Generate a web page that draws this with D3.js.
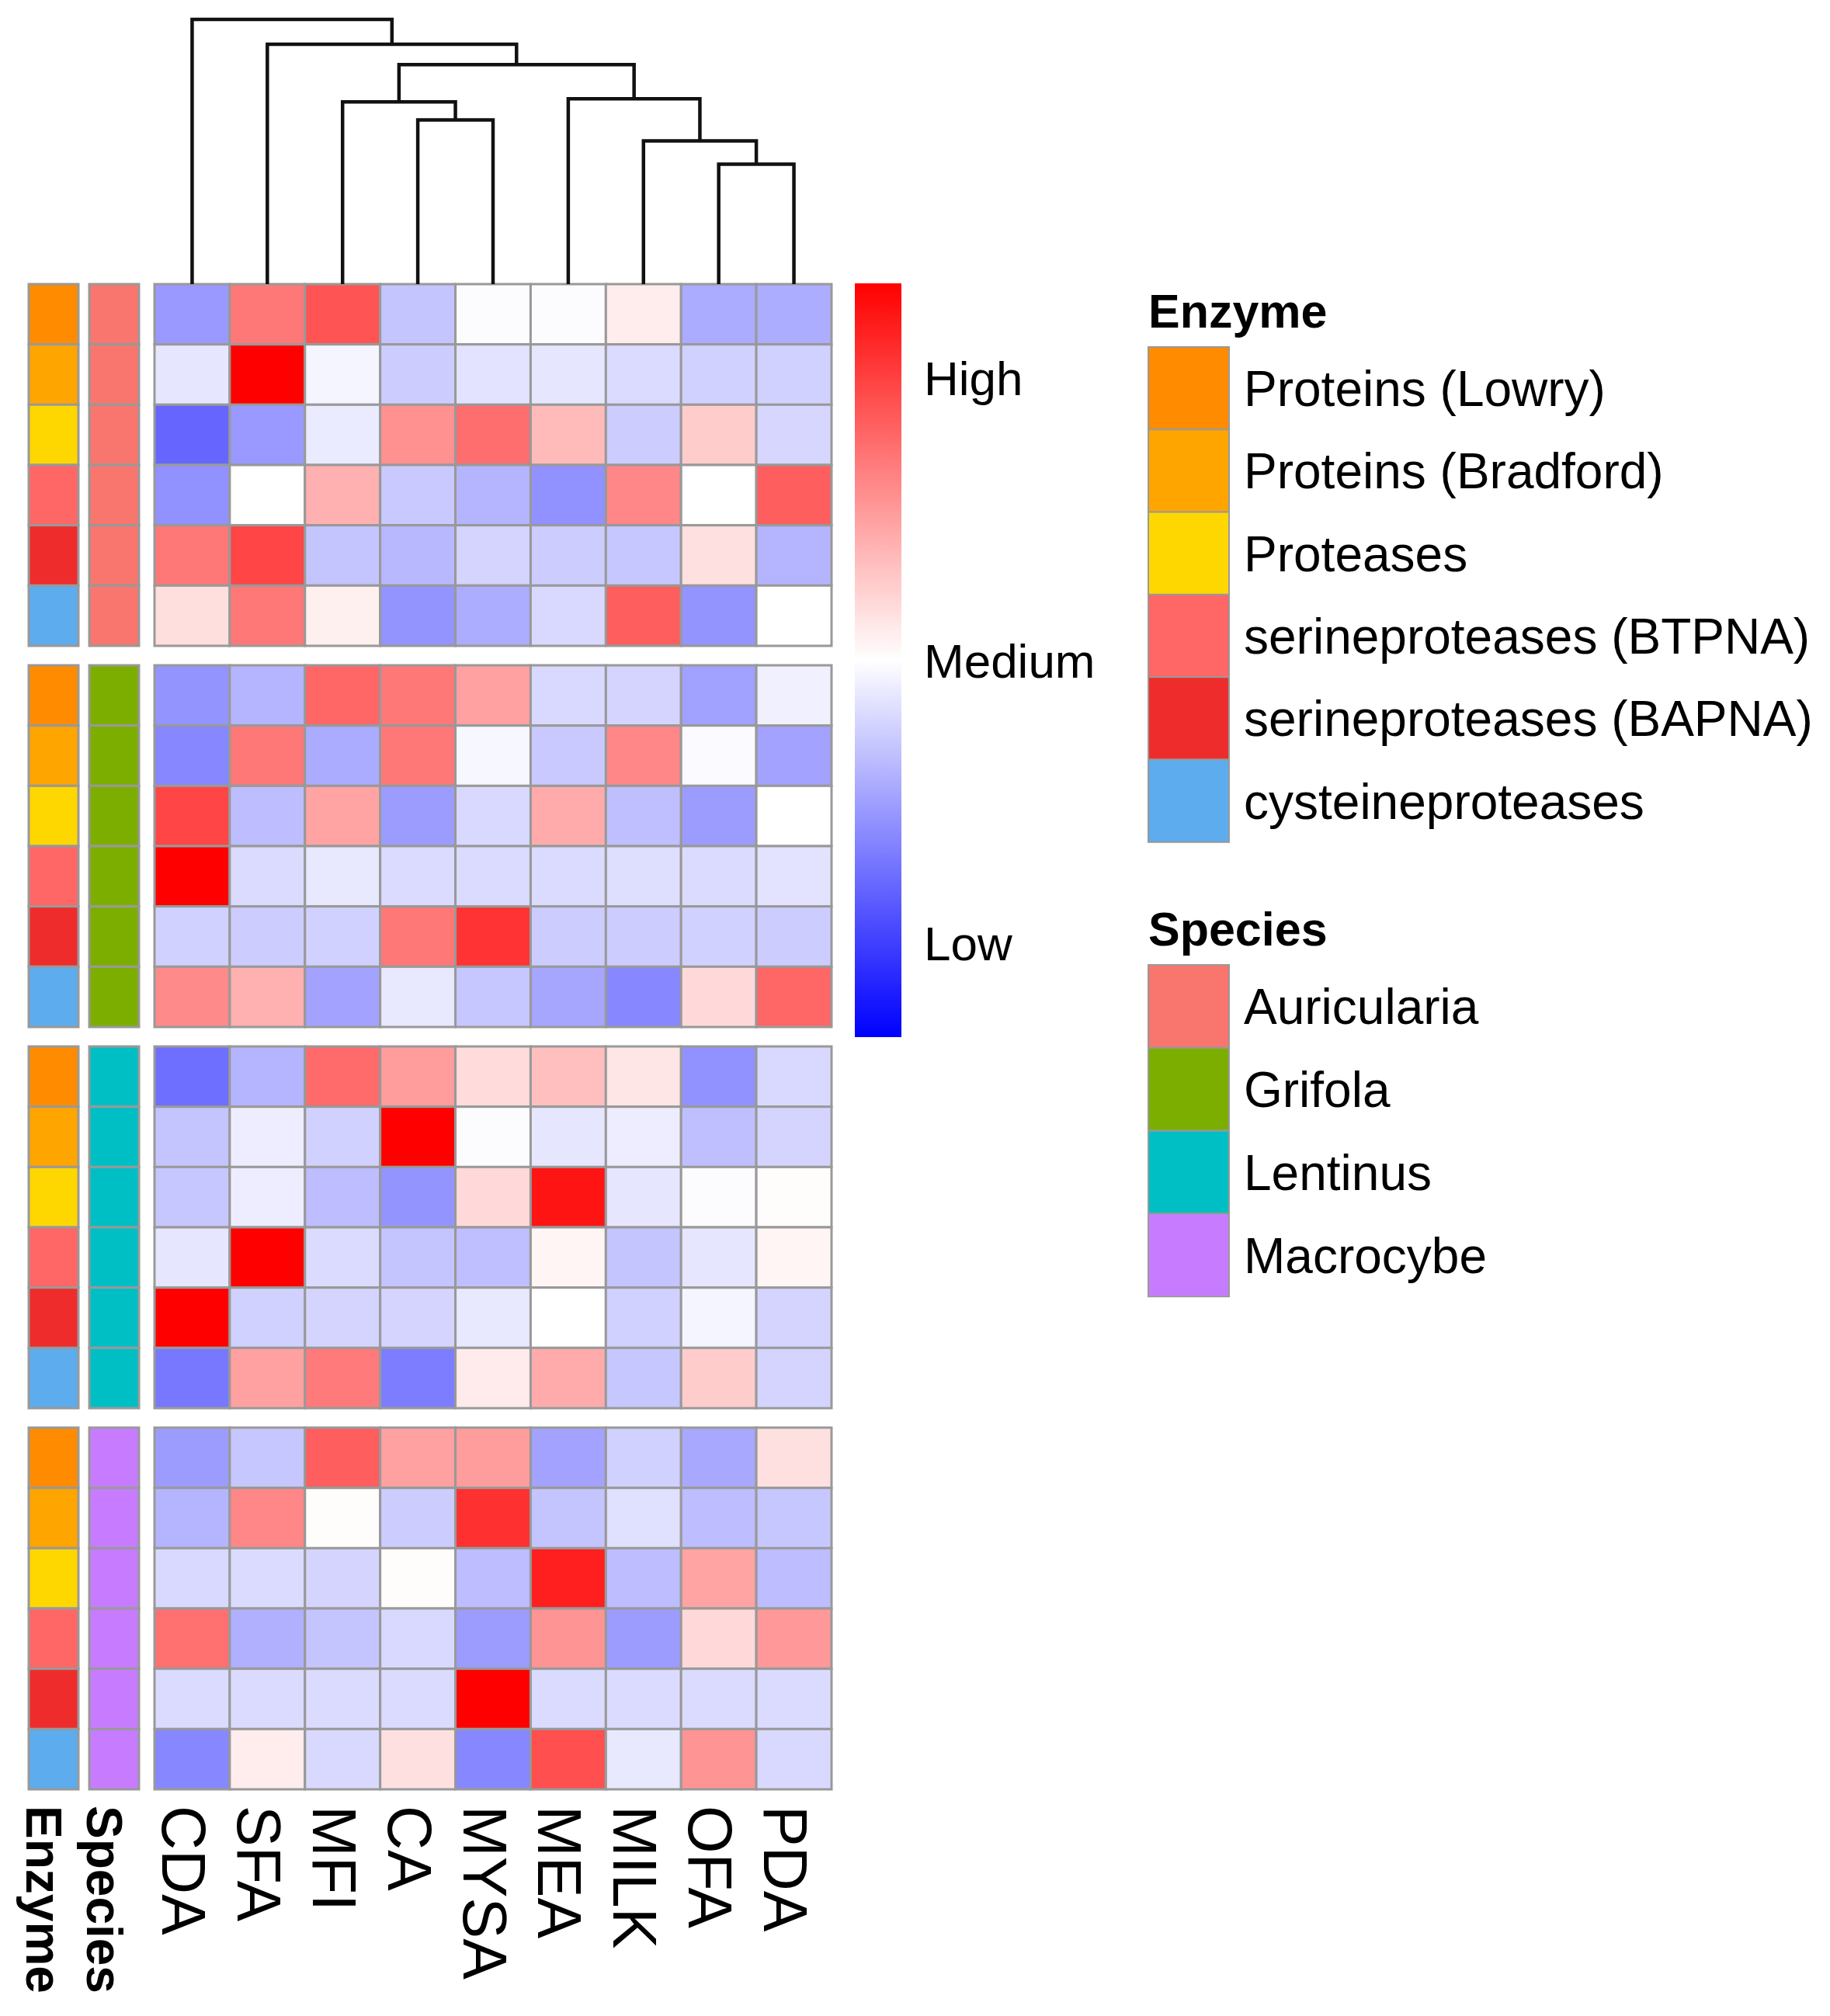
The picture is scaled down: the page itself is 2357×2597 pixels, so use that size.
<!DOCTYPE html>
<html>
<head>
<meta charset="utf-8">
<script src="https://cdn.jsdelivr.net/npm/d3@7"></script>
<style>
  body { margin: 0; background: #fff; }
  text { font-family: "Liberation Sans", Arial, sans-serif; fill: #000; }
</style>
</head>
<body>
<div id="chart"></div>
<script>
// columns (culture media), in dendrogram order
const columns = ["CDA", "SFA", "MFI", "CA", "MYSA", "MEA", "MILK", "OFA", "PDA"];

const enzymes = ["Proteins (Lowry)", "Proteins (Bradford)", "Proteases",
  "serineproteases (BTPNA)", "serineproteases (BAPNA)", "cysteineproteases"];
const enzymeColors = ["#ff8c00", "#ffa500", "#ffd700", "#ff6666", "#ee2c2c", "#5cacee"];

const species = ["Auricularia", "Grifola", "Lentinus", "Macrocybe"];
const speciesColors = ["#f8766d", "#7cae00", "#00bfc4", "#c77cff"];

// scaled values, -1 = low, 0 = medium, 1 = high (rows = enzymes)
const auricularia = [
  [-0.40, 0.53, 0.67, -0.23, -0.01, -0.01, 0.07, -0.33, -0.32],
  [-0.10, 1.00, -0.04, -0.20, -0.11, -0.10, -0.14, -0.18, -0.18],
  [-0.60, -0.40, -0.08, 0.43, 0.57, 0.27, -0.20, 0.20, -0.16],
  [-0.43, 0.00, 0.31, -0.21, -0.29, -0.43, 0.47, 0.00, 0.63],
  [0.53, 0.73, -0.23, -0.28, -0.17, -0.20, -0.22, 0.12, -0.29],
  [0.13, 0.53, 0.06, -0.42, -0.32, -0.15, 0.63, -0.42, 0.00]
];
const grifola = [
  [-0.42, -0.29, 0.60, 0.53, 0.37, -0.15, -0.17, -0.37, -0.06],
  [-0.47, 0.53, -0.33, 0.53, -0.03, -0.21, 0.47, -0.02, -0.36],
  [0.73, -0.26, 0.36, -0.39, -0.15, 0.33, -0.25, -0.39, 0.00],
  [1.00, -0.14, -0.09, -0.14, -0.14, -0.14, -0.13, -0.14, -0.11],
  [-0.18, -0.20, -0.18, 0.53, 0.80, -0.20, -0.20, -0.18, -0.20],
  [0.46, 0.31, -0.36, -0.09, -0.22, -0.35, -0.47, 0.15, 0.60]
];
const lentinus = [
  [-0.57, -0.29, 0.58, 0.39, 0.14, 0.25, 0.10, -0.43, -0.15],
  [-0.23, -0.07, -0.18, 1.00, -0.01, -0.10, -0.07, -0.25, -0.17],
  [-0.22, -0.07, -0.26, -0.42, 0.15, 0.92, -0.10, -0.01, 0.01],
  [-0.10, 1.00, -0.14, -0.23, -0.25, 0.04, -0.23, -0.10, 0.04],
  [1.00, -0.18, -0.17, -0.17, -0.09, 0.00, -0.18, -0.04, -0.17],
  [-0.53, 0.37, 0.52, -0.51, 0.08, 0.33, -0.22, 0.20, -0.17]
];
const macrocybe = [
  [-0.39, -0.22, 0.63, 0.37, 0.39, -0.36, -0.18, -0.34, 0.12],
  [-0.29, 0.47, 0.01, -0.20, 0.81, -0.23, -0.12, -0.26, -0.22],
  [-0.15, -0.14, -0.17, 0.01, -0.26, 0.88, -0.26, 0.36, -0.26],
  [0.56, -0.31, -0.23, -0.15, -0.39, 0.42, -0.39, 0.15, 0.40],
  [-0.14, -0.14, -0.14, -0.14, 1.00, -0.14, -0.14, -0.14, -0.14],
  [-0.47, 0.07, -0.15, 0.12, -0.47, 0.69, -0.09, 0.42, -0.15]
];
const blocks = [auricularia, grifola, lentinus, macrocybe];

// column clustering, hclust style: negative = leaf (1-based), positive = earlier merge
const merges = [
  [-4, -5, 2.11],
  [-8, -9, 1.54],
  [-7, 2, 1.84],
  [-3, 1, 2.34],
  [-6, 3, 2.38],
  [4, 5, 2.82],
  [-2, 6, 3.08],
  [-1, 7, 3.40]
];

const scaleTicks = [0.75, 0, -0.75];
const scaleLabels = ["High", "Medium", "Low"];

const W = 2357, H = 2597;
const svg = d3.select("#chart").append("svg")
  .attr("width", W).attr("height", H);

const x = d3.scaleBand().domain(columns).range([199, 1071]);
const blockY = d3.scaleBand().domain(species).range([366, 2305]).paddingInner(0.051).paddingOuter(0);
const rowY = d3.scaleBand().domain(enzymes).range([0, blockY.bandwidth()]);
const color = d3.scaleLinear().domain([-1, 0, 1]).range(["#0000ff", "#ffffff", "#ff0000"]);

// heatmap cells
const cells = [];
blocks.forEach((b, i) => b.forEach((row, r) => row.forEach((v, c) =>
  cells.push({ sp: species[i], enz: enzymes[r], col: columns[c], v }))));

svg.append("g").selectAll("rect").data(cells).join("rect")
  .attr("x", d => x(d.col))
  .attr("y", d => blockY(d.sp) + rowY(d.enz))
  .attr("width", x.bandwidth())
  .attr("height", rowY.bandwidth())
  .attr("fill", d => color(d.v))
  .attr("stroke", "#999")
  .attr("stroke-width", 3);

// row annotations
const annCols = [
  { name: "Enzyme", x0: 37, key: d => enzymeColors[enzymes.indexOf(d.enz)] },
  { name: "Species", x0: 115, key: d => speciesColors[species.indexOf(d.sp)] }
];
const annW = 64;
const annCells = [];
species.forEach(sp => enzymes.forEach(enz => annCols.forEach(a =>
  annCells.push({ sp, enz, a }))));

svg.append("g").selectAll("rect").data(annCells).join("rect")
  .attr("x", d => d.a.x0)
  .attr("y", d => blockY(d.sp) + rowY(d.enz))
  .attr("width", annW)
  .attr("height", rowY.bandwidth())
  .attr("fill", d => d.a.key(d))
  .attr("stroke", "#999")
  .attr("stroke-width", 3);

// column labels (vertical, reading downwards)
const labY = 2326;
svg.append("g").selectAll("text").data(columns).join("text")
  .attr("transform", d => `translate(${x(d) + x.bandwidth() / 2 - 10},${labY}) rotate(90)`)
  .attr("dy", "0.36em")
  .attr("font-size", 79)
  .text(d => d);

svg.append("g").selectAll("text").data(annCols).join("text")
  .attr("transform", d => `translate(${d.x0 + annW / 2 - 12},${labY}) rotate(90)`)
  .attr("dy", "0.36em")
  .attr("font-size", 64)
  .attr("font-weight", "bold")
  .text(d => d.name);

// dendrogram
const h = d3.scaleLinear().domain([0, 3.40]).range([366, 25]);
const nodes = [];
const pos = id => id < 0
  ? { x: x(columns[-id - 1]) + x.bandwidth() / 2, h: 0 }
  : nodes[id - 1];
const dendro = d3.path();
merges.forEach(([a, b, ht]) => {
  const l = pos(a), r = pos(b);
  dendro.moveTo(l.x, h(l.h));
  dendro.lineTo(l.x, h(ht));
  dendro.lineTo(r.x, h(ht));
  dendro.lineTo(r.x, h(r.h));
  nodes.push({ x: (l.x + r.x) / 2, h: ht });
});
svg.append("path")
  .attr("d", dendro.toString())
  .attr("fill", "none")
  .attr("stroke", "#111")
  .attr("stroke-width", 4.5);

// colour scale bar
const barY = d3.scaleLinear().domain([1, -1]).range([365, 1336]);
const grad = svg.append("defs").append("linearGradient")
  .attr("id", "grad").attr("x1", 0).attr("x2", 0).attr("y1", 0).attr("y2", 1);
d3.range(0, 1.0001, 0.05).forEach(t => {
  grad.append("stop").attr("offset", t).attr("stop-color", color(1 - 2 * t));
});
svg.append("rect")
  .attr("x", 1101).attr("y", barY(1))
  .attr("width", 60).attr("height", barY(-1) - barY(1))
  .attr("fill", "url(#grad)");
svg.append("g").selectAll("text").data(scaleTicks).join("text")
  .attr("x", 1190)
  .attr("y", d => barY(d))
  .attr("dy", "0.36em")
  .attr("font-size", 62)
  .text((d, i) => scaleLabels[i]);

// annotation legends
function legend(title, labels, colors, top, sw) {
  const g = svg.append("g");
  g.append("text")
    .attr("x", 1479).attr("y", top)
    .attr("font-size", 61).attr("font-weight", "bold")
    .text(title);
  const ly = d3.scaleBand().domain(labels).range([top + 25, top + 25 + sw * labels.length]);
  g.selectAll("rect").data(labels).join("rect")
    .attr("x", 1479).attr("y", d => ly(d))
    .attr("width", 104).attr("height", ly.bandwidth())
    .attr("fill", (d, i) => colors[i])
    .attr("stroke", "#999").attr("stroke-width", 2);
  g.selectAll("text.lab").data(labels).join("text")
    .attr("class", "lab")
    .attr("x", 1602)
    .attr("y", d => ly(d) + ly.bandwidth() / 2)
    .attr("dy", "0.36em")
    .attr("font-size", 64)
    .text(d => d);
}
legend("Enzyme", enzymes, enzymeColors, 422, 106.3);
legend("Species", species, speciesColors, 1218, 106.8);
</script>
</body>
</html>
